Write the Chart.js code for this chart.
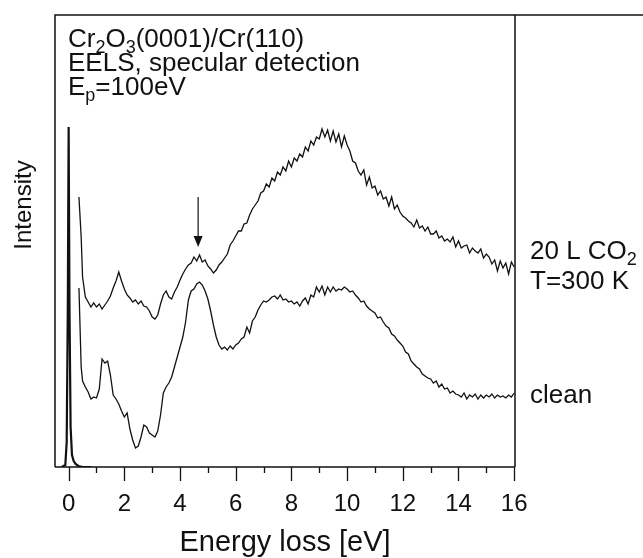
<!DOCTYPE html>
<html><head><meta charset="utf-8">
<script src="https://cdn.jsdelivr.net/npm/chart.js@4.4.1/dist/chart.umd.min.js"></script>
<style>html,body{margin:0;padding:0;background:#fff;} canvas{display:block;}</style>
</head><body>
<canvas id="c" width="643" height="558"></canvas>
<script>
// ---- data (energy loss in eV, intensity in arbitrary units) ----
const energies = [0.37,0.45,0.5,0.6,0.7,0.8,0.9,1.0,
1.1,1.2,1.3,1.4,1.5,1.6,1.7,1.8,1.9,2.0,
2.1,2.2,2.3,2.4,2.5,2.6,2.7,2.8,2.9,3.0,
3.1,3.2,3.3,3.4,3.5,3.6,3.7,3.8,3.9,4.0,
4.1,4.2,4.3,4.4,4.5,4.6,4.7,4.8,4.9,5.0,
5.1,5.2,5.3,5.4,5.5,5.6,5.7,5.8,5.9,6.0,
6.1,6.2,6.3,6.4,6.5,6.6,6.7,6.8,6.9,7.0,
7.1,7.2,7.3,7.4,7.5,7.6,7.7,7.8,7.9,8.0,
8.1,8.2,8.3,8.4,8.5,8.6,8.7,8.8,8.9,9.0,
9.1,9.2,9.3,9.4,9.5,9.6,9.7,9.8,9.9,10.0,
10.1,10.2,10.3,10.4,10.5,10.6,10.7,10.8,10.9,11.0,
11.1,11.2,11.3,11.4,11.5,11.6,11.7,11.8,11.9,12.0,
12.1,12.2,12.3,12.4,12.5,12.6,12.7,12.8,12.9,13.0,
13.1,13.2,13.3,13.4,13.5,13.6,13.7,13.8,13.9,14.0,
14.1,14.2,14.3,14.4,14.5,14.6,14.7,14.8,14.9,15.0,
15.1,15.2,15.3,15.4,15.5,15.6,15.7,15.8,15.9,16.0];

const co2Values = [270,230,190,170,165,160,164,160,
163,158,162,166,171,179,186,195,186,178,
172,169,165,167,163,166,161,160,156,150,
148,152,163,172,176,170,168,175,180,187,
193,198,202,204,210,206,212,205,207,201,
198,194,197,202,205,209,213,222,226,231,
236,236,243,244,252,258,262,266,274,276,
283,280,289,286,295,292,300,296,306,300,
309,306,313,310,320,316,326,322,330,328,
338,330,337,326,336,325,333,320,331,322,
316,306,304,296,292,297,282,290,279,281,
272,276,268,270,261,270,258,262,255,251,
249,246,244,240,247,239,241,236,240,233,
233,236,229,231,226,228,225,230,220,226,
219,221,222,214,219,216,214,218,209,213,
210,203,207,196,206,199,204,193,205,200];

const cleanValues = [179,100,86,80,75,68,70,69,
78,108,104,106,92,72,68,63,56,50,
54,38,27,19,21,30,42,40,34,32,
30,36,52,74,80,84,90,100,110,120,
130,145,167,176,178,183,185,182,176,168,
156,142,130,122,118,120,117,121,118,122,
124,128,130,140,134,146,150,157,162,166,
165,167,170,171,168,172,167,168,165,166,
163,165,161,166,169,163,172,170,180,175,
181,172,180,175,180,176,178,177,180,178,
175,176,172,169,165,166,161,158,156,154,
149,150,145,141,139,133,131,127,124,121,
115,113,106,103,100,98,93,91,89,88,
84,86,80,83,78,79,74,76,73,72,
70,74,68,72,70,73,68,72,69,72,
70,73,69,72,70,71,69,72,70,74];

const elasticEnergies = [-0.25,-0.12,-0.07,-0.03,0,0.03,0.07,0.12,0.18,0.25,0.35,0.5,0.8];
const elasticValues   = [0,2,25,160,340,160,40,12,6,3,1,0,0];

const xTicks = [0,1,2,3,4,5,6,7,8,9,10,11,12,13,14,15,16];
const xTickLabels = ['0','','2','','4','','6','','8','','10','','12','','14','','16'];

const arrowEnergy = 4.65, arrowFrom = 270, arrowTo = 220;

const FONT = "'Liberation Sans', Arial, Helvetica, sans-serif";
const INK = '#111';

function pts(xs, ys){ return xs.map((x,i)=>({x:x, y:ys[i]})); }

function richText(ctx, parts, x, y, size){
  let cx = x;
  parts.forEach(p=>{
    const s = p.sub ? Math.round(size*0.68) : size;
    ctx.font = s + 'px ' + FONT;
    ctx.fillText(p.t, cx, y + (p.sub ? size*0.24 : 0));
    cx += ctx.measureText(p.t).width;
  });
}

const decor = {
  id:'decor',
  afterDraw(chart){
    const {ctx, chartArea:a, scales:{x, y}} = chart;
    ctx.save();
    ctx.strokeStyle = INK; ctx.fillStyle = INK; ctx.lineWidth = 1.5;
    // frame
    ctx.beginPath();
    ctx.moveTo(a.left, a.bottom); ctx.lineTo(a.left, a.top); ctx.lineTo(chart.width, a.top);
    ctx.moveTo(a.right, a.top); ctx.lineTo(a.right, a.bottom);
    ctx.moveTo(a.left, a.bottom); ctx.lineTo(a.right, a.bottom);
    ctx.stroke();
    // tick marks
    ctx.lineWidth = 1.3;
    xTicks.forEach((v,i)=>{
      const px = Math.round(x.getPixelForValue(v))+0.5;
      const len = xTickLabels[i] !== '' ? 14 : 6;
      ctx.beginPath(); ctx.moveTo(px, a.bottom); ctx.lineTo(px, a.bottom+len); ctx.stroke();
    });
    // arrow
    const ax = x.getPixelForValue(arrowEnergy);
    const ay0 = y.getPixelForValue(arrowFrom), ay1 = y.getPixelForValue(arrowTo);
    ctx.lineWidth = 1.2;
    ctx.beginPath(); ctx.moveTo(ax, ay0); ctx.lineTo(ax, ay1-9); ctx.stroke();
    ctx.beginPath(); ctx.moveTo(ax-4.5, ay1-11); ctx.lineTo(ax+4.5, ay1-11); ctx.lineTo(ax, ay1); ctx.closePath(); ctx.fill();
    // annotation text
    ctx.textBaseline = 'alphabetic'; ctx.textAlign = 'left';
    const tx = a.left + 13;
    richText(ctx, [{t:'Cr'},{t:'2',sub:true},{t:'O'},{t:'3',sub:true},{t:'(0001)/Cr(110)'}], tx, a.top+32, 26);
    richText(ctx, [{t:'EELS, specular detection'}], tx, a.top+56, 26);
    richText(ctx, [{t:'E'},{t:'p',sub:true},{t:'=100eV'}], tx, a.top+80, 26);
    // series labels
    const rx = a.right + 15;
    richText(ctx, [{t:'20 L CO'},{t:'2',sub:true}], rx, 259, 26);
    richText(ctx, [{t:'T=300 K'}], rx, 289, 26);
    richText(ctx, [{t:'clean'}], rx, 403, 26);
    // y title
    ctx.save();
    ctx.translate(31, 205); ctx.rotate(-Math.PI/2);
    ctx.textAlign = 'center'; ctx.font = '24px ' + FONT;
    ctx.fillText('Intensity', 0, 0);
    ctx.restore();
    ctx.restore();
  }
};

new Chart(document.getElementById('c'), {
  type:'line',
  data:{ datasets:[
    {label:'elastic', data:pts(elasticEnergies, elasticValues), borderColor:INK, borderWidth:2.2, pointRadius:0, tension:0},
    {label:'20 L CO2', data:pts(energies, co2Values), borderColor:INK, borderWidth:1.3, pointRadius:0, tension:0},
    {label:'clean', data:pts(energies, cleanValues), borderColor:INK, borderWidth:1.3, pointRadius:0, tension:0}
  ]},
  options:{
    responsive:false, animation:false, devicePixelRatio:1,
    layout:{ padding:{ left:55, top:15, right:128, bottom:0 } },
    plugins:{ legend:{display:false}, tooltip:{enabled:false} },
    scales:{
      x:{ type:'linear', min:-0.49, max:16.03,
        afterBuildTicks:(s)=>{ s.ticks = xTicks.map(v=>({value:v})); },
        afterFit:(s)=>{ s.height = 91; },
        grid:{display:false}, border:{display:false},
        ticks:{ autoSkip:false, maxRotation:0, padding:15, color:INK,
          font:{family:FONT, size:24},
          callback:(v,i)=> xTickLabels[i] },
        title:{ display:true, text:'Energy loss [eV]', color:INK,
          font:{family:FONT, size:29, lineHeight:1.0}, padding:{top:0,bottom:1} }
      },
      y:{ display:false, min:0, max:452 }
    }
  },
  plugins:[decor]
});
</script>
</body></html>
